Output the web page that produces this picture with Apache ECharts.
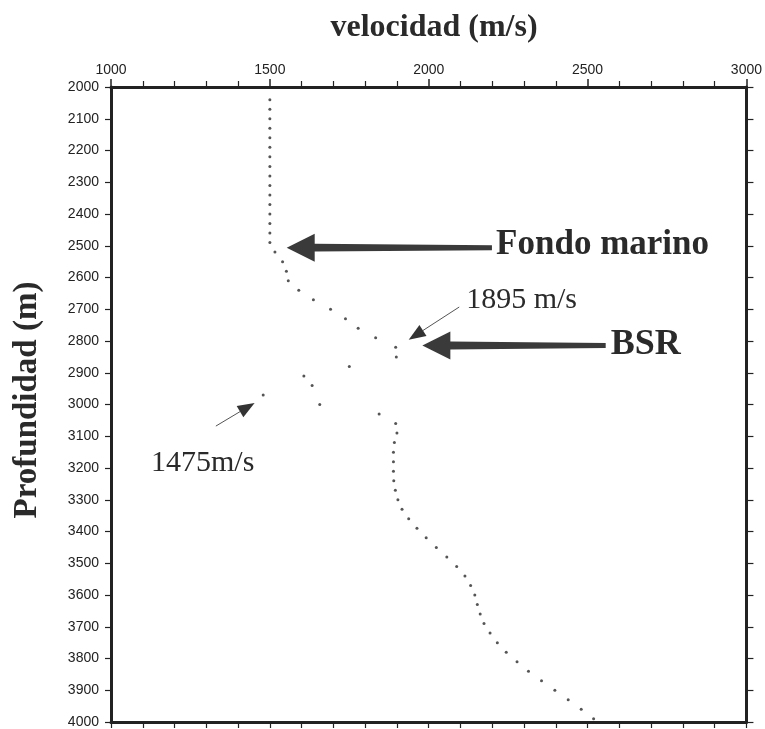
<!DOCTYPE html>
<html>
<head>
<meta charset="utf-8">
<script src="https://cdn.jsdelivr.net/npm/echarts@6/dist/echarts.min.js"></script>
<style>html,body{margin:0;padding:0;background:#fff}#c{width:765px;height:729px}</style>
</head>
<body>
<div id="c"></div>
<script>
// Depth (m) of each velocity sample
const depths = [
  2040,2070,2100,2130,2160,2190,2220,2250,2280,2310,2340,2370,2400,2430,2460,2490,
  2520,2550,2580,2610,2640,2670,2700,2730,2760,2790,2820,2850,2880,2910,2940,2970,
  3000,3030,3060,3090,3120,3150,3180,3210,3240,3270,3300,3330,3360,3390,3420,3450,
  3480,3510,3540,3570,3600,3630,3660,3690,3720,3750,3780,3810,3840,3870,3900,3930,3960,3990
];
// Velocity (m/s) at each depth
const velocities = [
  1500,1500,1500,1500,1500,1500,1500,1500,1500,1500,1500,1500,1500,1500,1500,1500,
  1516,1540,1552,1558,1591,1637,1691,1738,1778,1833,1896,1898,1750,1607,1633,1479,
  1657,1844,1896,1900,1892,1889,1889,1889,1890,1895,1903,1916,1937,1963,1992,2024,
  2057,2088,2114,2132,2145,2153,2162,2174,2193,2216,2244,2278,2314,2355,2397,2439,2480,2519
];
const xTickValues = [1000, 1500, 2000, 2500, 3000];
const xTitle = 'velocidad (m/s)';
const yTitle = 'Profundidad (m)';

const chart = echarts.init(document.getElementById('c'), null, {renderer: 'canvas'});
const AX = '#222';
const serif = '"Liberation Serif","Times New Roman",serif';
const sans = '"Liberation Sans",Arial,Helvetica,sans-serif';

chart.setOption({
  animation: false,
  backgroundColor: '#fff',
  grid: {left: 111, right: 17, top: 87, bottom: 6, containLabel: false},
  xAxis: [{
    type: 'value', position: 'top', min: 1000, max: 3000, interval: 500,
    axisLine: {show: true, lineStyle: {color: AX, width: 3}},
    axisTick: {show: true, length: 8, lineStyle: {color: AX, width: 1.5}},
    minorTick: {show: true, splitNumber: 5, length: 6, lineStyle: {color: AX, width: 1.2}},
    axisLabel: {show: true, color: '#222', fontFamily: sans, fontSize: 14, margin: 10,
      formatter: v => xTickValues.includes(v) ? String(v) : ''},
    splitLine: {show: false}
  }, {
    type: 'value', position: 'bottom', min: 1000, max: 3000, interval: 100,
    axisLine: {show: true, lineStyle: {color: AX, width: 3}},
    axisTick: {show: true, length: 6, lineStyle: {color: AX, width: 1.2}},
    axisLabel: {show: false}, splitLine: {show: false}
  }],
  yAxis: [{
    type: 'value', inverse: true, min: 2000, max: 4000, interval: 100, position: 'left',
    axisLine: {show: true, lineStyle: {color: AX, width: 3}},
    axisTick: {show: true, length: 6, lineStyle: {color: AX, width: 1.2}},
    axisLabel: {show: true, color: '#222', fontFamily: sans, fontSize: 14, margin: 12,
      formatter: v => String(v)},
    splitLine: {show: false}
  }, {
    type: 'value', inverse: true, min: 2000, max: 4000, interval: 100, position: 'right',
    axisLine: {show: true, lineStyle: {color: AX, width: 3}},
    axisTick: {show: true, length: 7, lineStyle: {color: AX, width: 1.2}},
    axisLabel: {show: false}, splitLine: {show: false}
  }],
  series: [{
    type: 'scatter', xAxisIndex: 0, yAxisIndex: 0,
    symbol: 'circle', symbolSize: 3,
    itemStyle: {color: '#2a2a2a'},
    data: depths.map((d, i) => [velocities[i], d])
  }]
});

// Annotations placed in data coordinates (velocity, depth)
const P = (v, d) => chart.convertToPixel({xAxisIndex: 0, yAxisIndex: 0}, [v, d]);

function arrowPoly(tail, tip, headLen, headW, tailHalf, shaftHalf) {
  const dx = tip[0] - tail[0], dy = tip[1] - tail[1];
  const L = Math.hypot(dx, dy), ux = dx / L, uy = dy / L, nx = -uy, ny = ux;
  const bx = tip[0] - ux * headLen, by = tip[1] - uy * headLen;
  return [
    [tail[0] + nx * tailHalf, tail[1] + ny * tailHalf],
    [bx + nx * shaftHalf, by + ny * shaftHalf],
    [bx + nx * headW / 2, by + ny * headW / 2],
    [tip[0], tip[1]],
    [bx - nx * headW / 2, by - ny * headW / 2],
    [bx - nx * shaftHalf, by - ny * shaftHalf],
    [tail[0] - nx * tailHalf, tail[1] - ny * tailHalf]
  ];
}
function thinArrow(tail, tip, headLen, headW) {
  const dx = tip[0] - tail[0], dy = tip[1] - tail[1];
  const L = Math.hypot(dx, dy), ux = dx / L, uy = dy / L, nx = -uy, ny = ux;
  const bx = tip[0] - ux * headLen, by = tip[1] - uy * headLen;
  return [
    {type: 'line', shape: {x1: tail[0], y1: tail[1], x2: bx, y2: by},
     style: {stroke: '#555', lineWidth: 1}},
    {type: 'polygon', shape: {points: [[tip[0], tip[1]],
      [bx + nx * headW / 2, by + ny * headW / 2], [bx - nx * headW / 2, by - ny * headW / 2]]},
     style: {fill: '#333'}}
  ];
}
function txt(x, y, text, font, align, rot) {
  return {type: 'text', x: x, y: y, rotation: rot || 0,
    style: {text: text, x: 0, y: 0, font: font, fill: '#2a2a2a',
      align: align, textAlign: align, verticalAlign: 'middle', textVerticalAlign: 'middle'}};
}

const els = [];
els.push({type: 'polygon', shape: {points: arrowPoly(P(2199, 2506), P(1553, 2506), 28, 28, 2.5, 3.8)}, style: {fill: '#3a3a3a'}});
els.push({type: 'polygon', shape: {points: arrowPoly(P(2557, 2814), P(1980, 2814), 28, 28, 2.5, 4)}, style: {fill: '#3a3a3a'}});
els.push(...thinArrow(P(2096, 2693), P(1937, 2796), 17, 13));
els.push(...thinArrow(P(1330, 3068), P(1452, 2995), 17, 13));
const pF = P(2212, 2497), pB = P(2573, 2812), p1 = P(2118, 2670), p2 = P(1126, 3185);
els.push(txt(pF[0], pF[1], 'Fondo marino', 'bold 35px ' + serif, 'left'));
els.push(txt(pB[0], pB[1], 'BSR', 'bold 36px ' + serif, 'left'));
els.push(txt(p1[0], p1[1], '1895 m/s', '30px ' + serif, 'left'));
els.push(txt(p2[0], p2[1], '1475m/s', '30px ' + serif, 'left'));
els.push(txt(434, 28, xTitle, 'bold 32px ' + serif, 'center'));
els.push(txt(27, 400, yTitle, 'bold 33px ' + serif, 'center', Math.PI / 2));
chart.setOption({graphic: {elements: els}});
</script>
</body>
</html>
